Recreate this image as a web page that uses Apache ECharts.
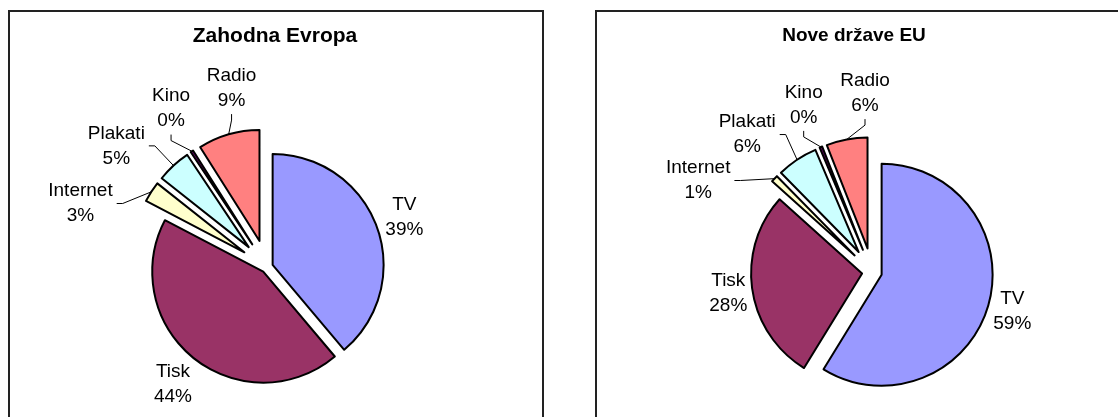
<!DOCTYPE html>
<html>
<head>
<meta charset="utf-8">
<script src="https://cdn.jsdelivr.net/npm/echarts@6/dist/echarts.min.js"></script>
<style>
  html, body { margin: 0; padding: 0; background: #fff; }
  #main { width: 1118px; height: 417px; }
</style>
</head>
<body>
<div id="main"></div>
<script>
// podatki (deleži v %)
var categories = ['TV', 'Tisk', 'Internet', 'Plakati', 'Kino', 'Radio'];
var westValues = [39, 44, 3, 5, 0.4, 9];
var newValues = [59, 28, 1, 6, 0.4, 6];
var titles = ['Zahodna Evropa', 'Nove države EU'];

var colors = ['#9999FF', '#993366', '#FFFFCC', '#CCFFFF', '#660066', '#FF8080'];
var FONT = '"Liberation Sans", Arial, sans-serif';
var R = 111;

var pies = [
  { values: westValues, cx: 267, cy: 267, bigOff: 6, smallOff: 27 },
  { values: newValues, cx: 872, cy: 272, bigOff: 10, smallOff: 24 }
];

function isSmall(v, total) { return v / total < 0.15; }

function angles(values) {
  var total = values.reduce(function (a, b) { return a + b; }, 0);
  var acc = 0, mids = [];
  values.forEach(function (v) { mids.push((acc + v / 2) / total * 360); acc += v; });
  return { total: total, mids: mids };
}

// majhne rezine: napisi razprti na 20 stopinj
function labelAngles(values) {
  var a = angles(values);
  var out = a.mids.slice(), small = [];
  values.forEach(function (v, i) { if (isSmall(v, a.total)) small.push(i); });
  var mean = small.reduce(function (s, i) { return s + a.mids[i]; }, 0) / small.length - 4;
  small.forEach(function (i, k) { out[i] = mean + (k - (small.length - 1) / 2) * 20; });
  return out;
}

function makeLayout(p) {
  var a = angles(p.values), la = labelAngles(p.values);
  return function (params) {
    var i = params.dataIndex;
    var small = isSmall(p.values[i], a.total);
    var off = small ? p.smallOff : p.bigOff;
    var t = la[i] * Math.PI / 180, sx = Math.sin(t), sy = -Math.cos(t);
    var w = params.labelRect.width, h = params.labelRect.height - 6;
    var e = Math.min(Math.abs(sx) > 1e-6 ? w / 2 / Math.abs(sx) : 1e9,
                     Math.abs(sy) > 1e-6 ? h / 2 / Math.abs(sy) : 1e9);
    var dist = small ? R + off + 25 : R + 15;
    var lx = p.cx + (dist + e) * sx, ly = p.cy + (dist + e) * sy;
    var res = { x: lx, y: ly, align: 'center', verticalAlign: 'middle' };
    if (small) {
      var m = a.mids[i] * Math.PI / 180;
      var px = p.cx + (R + off) * Math.sin(m), py = p.cy - (R + off) * Math.cos(m);
      var anchor, elbow;
      if (Math.abs(sx) < 0.55) {
        anchor = [lx, ly + h / 2 + 7]; elbow = [lx, ly + h / 2 + 13];
      } else if (sx < 0) {
        anchor = [lx + w / 2 + 4, ly]; elbow = [lx + w / 2 + 10, ly];
      } else {
        anchor = [lx - w / 2 - 4, ly]; elbow = [lx - w / 2 - 10, ly];
      }
      res.labelLinePoints = [[px, py], elbow, anchor];
    }
    return res;
  };
}

var common = {
  type: 'pie',
  radius: R,
  startAngle: 90,
  avoidLabelOverlap: false,
  animation: false,
  emphasis: { disabled: true },
  silent: true
};

// rezine: velike in majhne so izvlečene različno daleč
function sliceSeries(p, wantSmall) {
  var tot = angles(p.values).total;
  var data = p.values.map(function (v, i) {
    var item = { name: categories[i], value: v };
    if (isSmall(v, tot) === wantSmall) {
      item.selected = true;
      item.itemStyle = { color: colors[i] };
    } else {
      item.itemStyle = { color: 'rgba(0,0,0,0)', borderWidth: 0 };
    }
    return item;
  });
  return echarts.util.extend({
    center: [p.cx, p.cy],
    selectedMode: 'multiple',
    selectedOffset: wantSmall ? p.smallOff : p.bigOff,
    itemStyle: { borderColor: '#000', borderWidth: 2 },
    label: { show: false },
    labelLine: { show: false },
    data: data
  }, common);
}

// napisi: nevidne rezine, samo besedilo in vodilne črte
function labelSeries(p) {
  var tot = angles(p.values).total;
  var data = p.values.map(function (v, i) {
    return { name: categories[i], value: v, labelLine: { show: isSmall(v, tot) } };
  });
  return echarts.util.extend({
    center: [p.cx, p.cy],
    selectedMode: false,
    itemStyle: { color: 'rgba(0,0,0,0)', borderWidth: 0 },
    label: {
      show: true,
      position: 'outside',
      formatter: function (q) { return '{c|' + q.name + '}\n{c|' + Math.round(q.percent) + '%}'; },
      rich: { c: { align: 'center', fontSize: 19, lineHeight: 25, color: '#000', fontFamily: FONT } }
    },
    labelLine: { lineStyle: { color: '#000', width: 1 } },
    labelLayout: makeLayout(p),
    z: 5,
    data: data
  }, common);
}

var chart = echarts.init(document.getElementById('main'), null, { renderer: 'canvas' });

var series = [];
pies.forEach(function (p) {
  series.push(sliceSeries(p, false));
  series.push(sliceSeries(p, true));
  series.push(labelSeries(p));
});

chart.setOption({
  backgroundColor: '#fff',
  animation: false,
  title: [
    { text: titles[0], left: 275, top: 26, textAlign: 'center', textVerticalAlign: 'top', padding: 0,
      textStyle: { fontSize: 21, fontWeight: 'bold', fontFamily: FONT, color: '#000' } },
    { text: titles[1], left: 854, top: 26, textAlign: 'center', textVerticalAlign: 'top', padding: 0,
      textStyle: { fontSize: 19, fontWeight: 'bold', fontFamily: FONT, color: '#000' } }
  ],
  graphic: [
    { type: 'rect', silent: true, shape: { x: 9, y: 11, width: 534, height: 440 },
      style: { fill: 'none', stroke: '#222', lineWidth: 2 } },
    { type: 'rect', silent: true, shape: { x: 596, y: 11, width: 534, height: 440 },
      style: { fill: 'none', stroke: '#222', lineWidth: 2 } }
  ],
  series: series
});
</script>
</body>
</html>
